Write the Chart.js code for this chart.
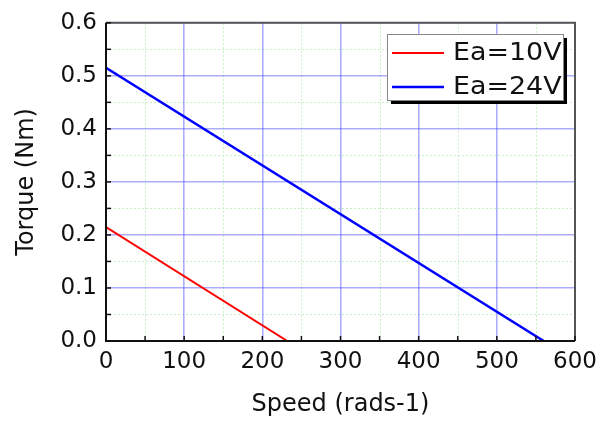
<!DOCTYPE html>
<html>
<head>
<meta charset="utf-8">
<script src="https://cdn.jsdelivr.net/npm/chart.js@4/dist/chart.umd.min.js"></script>
<style>
html,body{margin:0;padding:0;background:#fff;}
#c{display:block;}
</style>
</head>
<body>
<canvas id="c" width="606" height="421"></canvas>
<script>
// ---- data ----
const seriesLabels = ["Ea=10V", "Ea=24V"];
const speed10 = [0, 232];
const torque10 = [0.215, 0];
const speed24 = [0, 560];
const torque24 = [0.515, 0];
const xTicks = [0, 100, 200, 300, 400, 500, 600];
const yTicks = [0.0, 0.1, 0.2, 0.3, 0.4, 0.5, 0.6];
const xMinorStep = 50;
const yMinorStep = 0.05;

const FONT = "'DejaVu Sans', 'Liberation Sans', Arial, sans-serif";

function pts(xs, ys){ return xs.map((x,i)=>({x:x, y:ys[i]})); }

const decor = {
  id: 'decor',
  beforeDraw(chart){
    const ctx = chart.ctx, a = chart.chartArea;
    const xs = chart.scales.x, ys = chart.scales.y;
    ctx.save();
    ctx.fillStyle = '#ffffff';
    ctx.fillRect(0,0,chart.width,chart.height);
    // minor grid (dotted light green)
    ctx.strokeStyle = '#c6efc6';
    ctx.lineWidth = 1;
    ctx.setLineDash([2,2]);
    for (let v = xTicks[0] + xMinorStep; v < xTicks[xTicks.length-1]; v += 2*xMinorStep){
      const px = Math.round(xs.getPixelForValue(v)) + 0.5;
      ctx.beginPath(); ctx.moveTo(px, a.top); ctx.lineTo(px, a.bottom); ctx.stroke();
    }
    for (let i = 0; i < yTicks.length-1; i++){
      const v = yTicks[i] + yMinorStep;
      const py = Math.round(ys.getPixelForValue(v)) + 0.5;
      ctx.beginPath(); ctx.moveTo(a.left, py); ctx.lineTo(a.right, py); ctx.stroke();
    }
    ctx.restore();
  },
  afterDatasetsDraw(chart){
    const ctx = chart.ctx, a = chart.chartArea;
    const xs = chart.scales.x, ys = chart.scales.y;
    ctx.save();
    // frame
    ctx.lineWidth = 2;
    ctx.strokeStyle = '#555';
    ctx.beginPath();
    ctx.moveTo(a.left, a.top); ctx.lineTo(a.right, a.top); ctx.lineTo(a.right, a.bottom);
    ctx.stroke();
    ctx.strokeStyle = '#111';
    ctx.beginPath();
    ctx.moveTo(a.left, a.top); ctx.lineTo(a.left, a.bottom); ctx.lineTo(a.right, a.bottom);
    ctx.stroke();
    // inward ticks
    ctx.lineWidth = 1.5;
    ctx.strokeStyle = '#111';
    for (let v = xTicks[0]; v <= xTicks[xTicks.length-1]; v += xMinorStep){
      const px = xs.getPixelForValue(v);
      ctx.beginPath(); ctx.moveTo(px, a.bottom); ctx.lineTo(px, a.bottom - 5); ctx.stroke();
    }
    for (let i = 0; i < yTicks.length; i++){
      [0, yMinorStep].forEach(off=>{
        const v = yTicks[i] + off;
        if (v > yTicks[yTicks.length-1] + 1e-9) return;
        const py = ys.getPixelForValue(v);
        ctx.beginPath(); ctx.moveTo(a.left, py); ctx.lineTo(a.left + 5, py); ctx.stroke();
      });
    }
    ctx.restore();
  },
  afterDraw(chart){
    const ctx = chart.ctx;
    const bx = 387, by = 34, bw = 176, bh = 66;
    ctx.save();
    ctx.fillStyle = '#000';
    ctx.fillRect(bx + 4, by + 4, bw, bh);
    ctx.fillStyle = '#fff';
    ctx.fillRect(bx, by, bw, bh);
    ctx.strokeStyle = '#888';
    ctx.lineWidth = 1;
    ctx.strokeRect(bx + 0.5, by + 0.5, bw, bh);
    ctx.font = '24px ' + FONT;
    ctx.textBaseline = 'middle';
    ctx.textAlign = 'left';
    chart.data.datasets.forEach((ds, i)=>{
      const y = by + 19 + i * 34;
      ctx.strokeStyle = ds.borderColor;
      ctx.lineWidth = ds.borderWidth;
      ctx.beginPath(); ctx.moveTo(bx + 5, y); ctx.lineTo(bx + 57, y); ctx.stroke();
      ctx.fillStyle = '#111';
      ctx.save();
      ctx.translate(bx + 66, y + 1);
      ctx.scale(1.12, 1);
      ctx.fillText(ds.label, 0, 0);
      ctx.restore();
    });
    ctx.restore();
  }
};

new Chart(document.getElementById('c'), {
  type: 'scatter',
  data: {
    datasets: [
      { label: seriesLabels[0], data: pts(speed10, torque10), showLine: true,
        borderColor: '#ff0000', borderWidth: 2, pointRadius: 0, fill: false },
      { label: seriesLabels[1], data: pts(speed24, torque24), showLine: true,
        borderColor: '#0000ff', borderWidth: 2.5, pointRadius: 0, fill: false }
    ]
  },
  options: {
    responsive: false,
    animation: false,
    devicePixelRatio: 1,
    layout: { padding: { left: 0, top: 18, right: 31, bottom: 0 } },
    plugins: { legend: { display: false }, tooltip: { enabled: false } },
    scales: {
      x: {
        type: 'linear', min: xTicks[0], max: xTicks[xTicks.length-1],
        afterBuildTicks: s => { s.ticks = xTicks.map(v=>({value:v})); },
        afterFit: s => { s.height = 80; },
        ticks: { color: '#111', font: { family: FONT, size: 23 }, padding: 7, maxRotation: 0 },
        grid: { color: 'rgba(70,70,255,0.45)', lineWidth: 1.6, drawTicks: false },
        border: { display: false },
        title: { display: true, text: 'Speed (rads-1)', color: '#111',
                 font: { family: FONT, size: 24 }, padding: { top: 2, bottom: 2 } }
      },
      y: {
        type: 'linear', min: yTicks[0], max: yTicks[yTicks.length-1],
        afterBuildTicks: s => { s.ticks = yTicks.map(v=>({value:v})); },
        afterFit: s => { s.width = 106; },
        ticks: { color: '#111', font: { family: FONT, size: 23 }, padding: 9,
                 callback: v => v.toFixed(1) },
        grid: { color: 'rgba(70,70,255,0.45)', lineWidth: 1.6, drawTicks: false },
        border: { display: false },
        title: { display: true, text: 'Torque (Nm)', color: '#111',
                 font: { family: FONT, size: 24 }, padding: { top: 12, bottom: 0 } }
      }
    }
  },
  plugins: [decor]
});
</script>
</body>
</html>
